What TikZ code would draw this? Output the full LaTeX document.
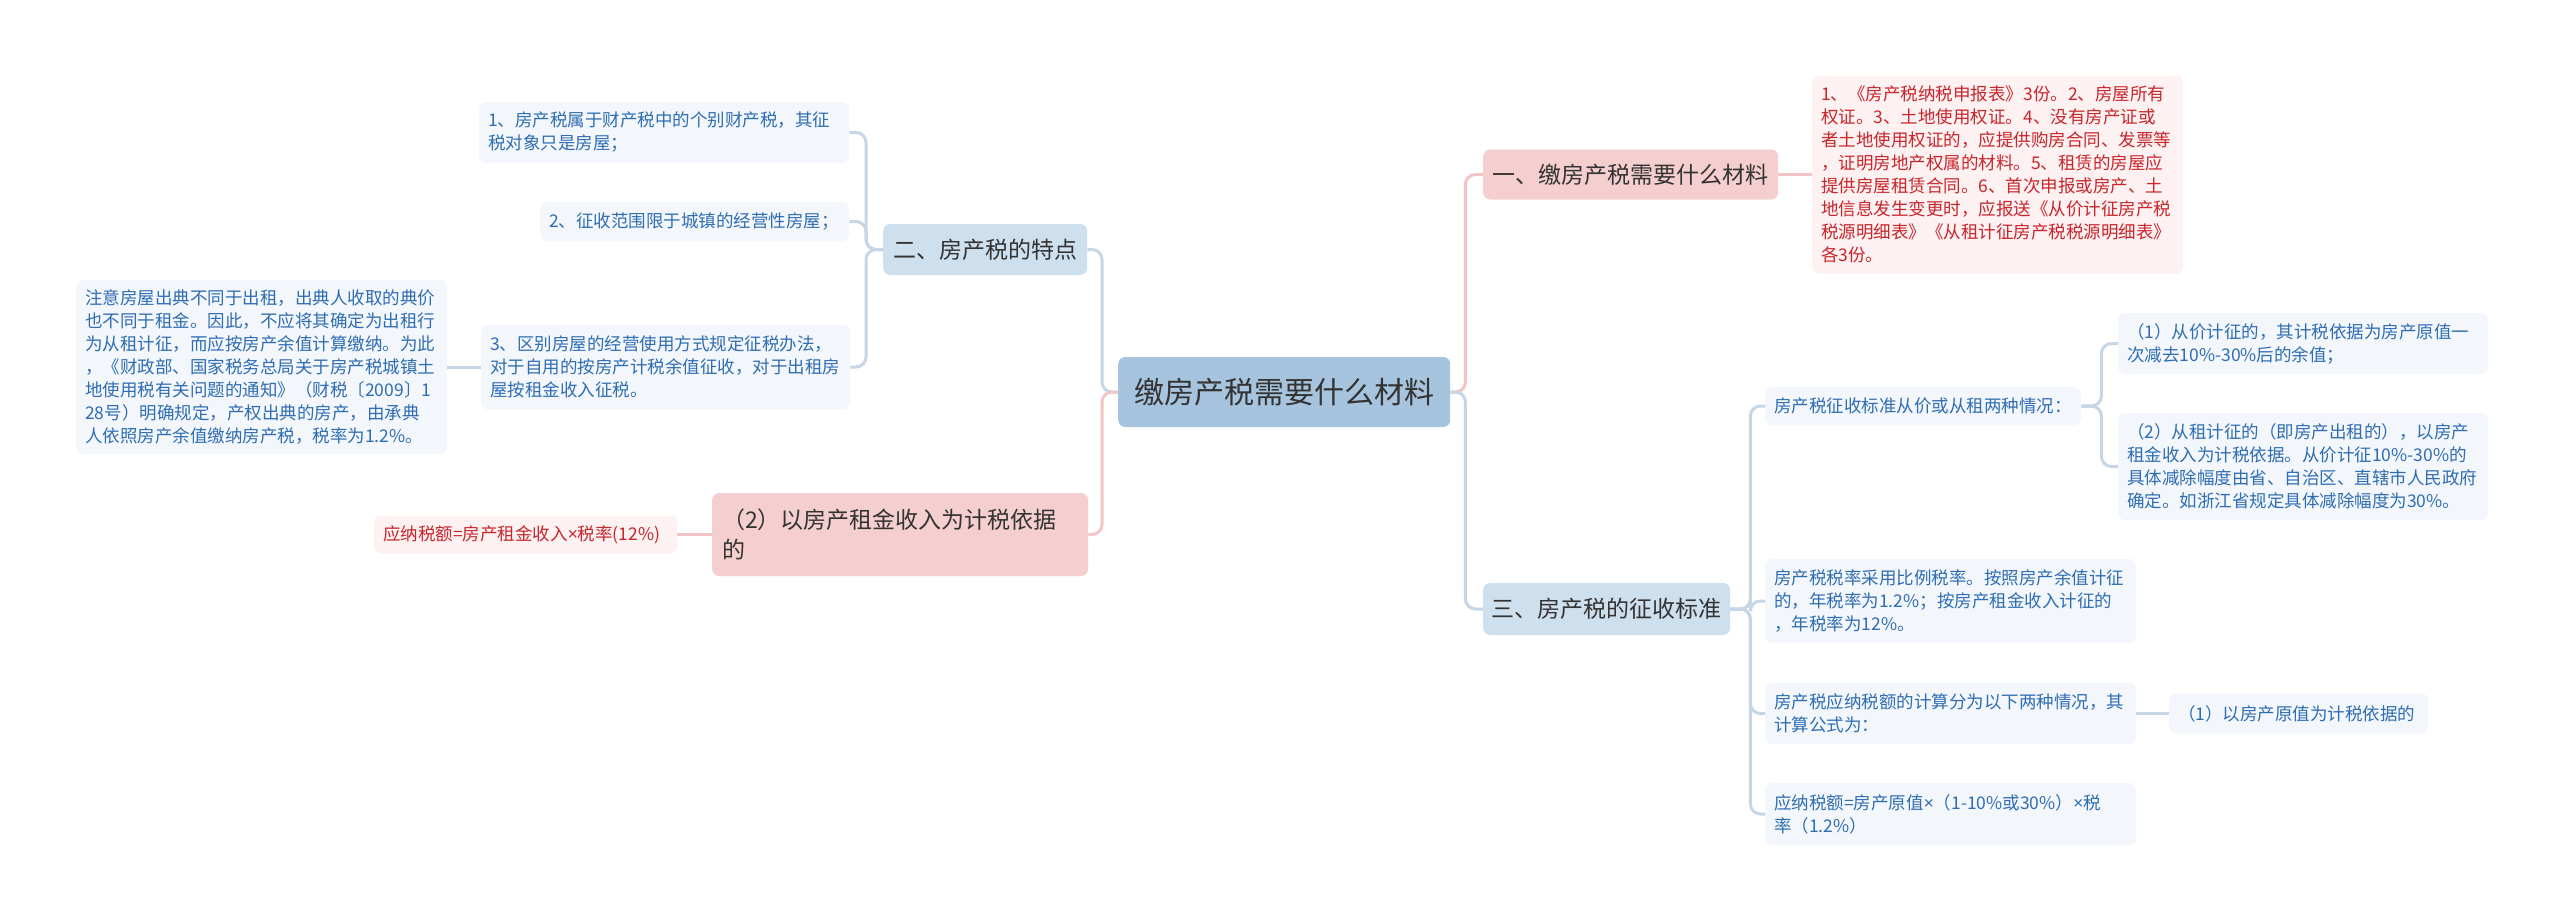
\documentclass[tikz,border=0pt]{standalone}
\usepackage{fontspec}
\setmainfont{Noto Sans CJK SC}
\newfontfamily\latinfont{Noto Sans}
\newcommand{\mytimes}{{\latinfont ×}}
\definecolor{rootfill}{RGB}{167,196,222}
\definecolor{bluefill}{RGB}{206,223,238}
\definecolor{pinkfill}{RGB}{245,206,207}
\definecolor{bleaf}{RGB}{243,247,252}
\definecolor{pleaf}{RGB}{253,241,241}
\definecolor{btext}{RGB}{47,109,178}
\definecolor{ptext}{RGB}{200,38,44}
\definecolor{dtext}{RGB}{51,51,51}
\definecolor{bline}{RGB}{198,214,230}
\definecolor{pline}{RGB}{242,196,197}
\begin{document}
\begin{tikzpicture}[x=1pt,y=-1pt,
 base/.style={rounded corners=7pt, inner ysep=0pt, anchor=west},
 rootbox/.style={base, fill=rootfill, text=dtext, font=\fontsize{30}{36}\selectfont, minimum width=332pt, minimum height=70pt, inner xsep=0pt},
 lvb/.style={base, fill=bluefill, text=dtext, font=\fontsize{23}{30}\selectfont, inner xsep=0pt},
 lvp/.style={base, fill=pinkfill, text=dtext, font=\fontsize{23}{30}\selectfont, inner xsep=0pt},
 leafb/.style={base, fill=bleaf, text=btext, font=\fontsize{17.5}{23}\selectfont, align=left, inner xsep=9pt},
 leafp/.style={base, fill=pleaf, text=ptext, font=\fontsize{17.5}{23}\selectfont, align=left, inner xsep=9pt},
 conb/.style={draw=bline, line width=3pt, rounded corners=10pt},
 conp/.style={draw=pline, line width=3pt, rounded corners=10pt},
]
\useasboundingbox[fill=white] (0,0) rectangle (2560,921);

% root
\node[rootbox] (root) at (1118,392) {缴房产税需要什么材料};

% left side
\node[lvb, minimum width=204pt, minimum height=51pt] (er) at (883,249.5) {二、房产税的特点};
\node[lvp, text width=356pt, align=left, inner xsep=10pt, minimum height=83pt] (p2) at (712,534.5) {（2）以房产租金收入为计税依据\\的};
\node[leafp, text width=285pt, minimum height=38pt] (red) at (374,534.5) {应纳税额=房产租金收入\mytimes 税率(12\%)};

\node[leafb, text width=352pt, minimum height=61pt] (a1) at (479,132.5) {1、房产税属于财产税中的个别财产税，其征\\税对象只是房屋；};
\node[leafb, text width=291pt, minimum height=39pt] (a2) at (540,221.5) {2、征收范围限于城镇的经营性房屋；};
\node[leafb, text width=351pt, minimum height=85pt] (a3) at (481,367) {3、区别房屋的经营使用方式规定征税办法，\\对于自用的按房产计税余值征收，对于出租房\\屋按租金收入征税。};
\node[leafb, text width=353pt, minimum height=174pt] (note) at (76,367) {注意房屋出典不同于出租，出典人收取的典价\\也不同于租金。因此，不应将其确定为出租行\\为从租计征，而应按房产余值计算缴纳。为此\\，《财政部、国家税务总局关于房产税城镇土\\地使用税有关问题的通知》（财税〔2009〕1\\28号）明确规定，产权出典的房产，由承典\\人依照房产余值缴纳房产税，税率为1.2\%。};

% right side
\node[lvp, minimum width=295pt, minimum height=50pt] (y1) at (1483,174.5) {一、缴房产税需要什么材料};
\node[leafp, text width=353pt, minimum height=198pt] (y1c) at (1812,174.5) {1、《房产税纳税申报表》3份。2、房屋所有\\权证。3、土地使用权证。4、没有房产证或\\者土地使用权证的，应提供购房合同、发票等\\，证明房地产权属的材料。5、租赁的房屋应\\提供房屋租赁合同。6、首次申报或房产、土\\地信息发生变更时，应报送《从价计征房产税\\税源明细表》《从租计征房产税税源明细表》\\各3份。};

\node[lvb, minimum width=247pt, minimum height=52pt] (s3) at (1483,609) {三、房产税的征收标准};
\node[leafb, text width=298pt, minimum height=38pt] (b1) at (1765,406) {房产税征收标准从价或从租两种情况：};
\node[leafb, text width=352pt, minimum height=61pt] (b1a) at (2118,343.5) {（1）从价计征的，其计税依据为房产原值一\\次减去10\%-30\%后的余值；};
\node[leafb, text width=352pt, minimum height=107pt] (b1b) at (2118,466.5) {（2）从租计征的（即房产出租的），以房产\\租金收入为计税依据。从价计征10\%-30\%的\\具体减除幅度由省、自治区、直辖市人民政府\\确定。如浙江省规定具体减除幅度为30\%。};
\node[leafb, text width=353pt, minimum height=84pt] (b2) at (1765,601) {房产税税率采用比例税率。按照房产余值计征\\的，年税率为1.2\%；按房产租金收入计征的\\，年税率为12\%。};
\node[leafb, text width=353pt, minimum height=61pt] (b3) at (1765,713.5) {房产税应纳税额的计算分为以下两种情况，其\\计算公式为：};
\node[leafb, text width=241pt, minimum height=40pt] (b3a) at (2169,713.5) {（1）以房产原值为计税依据的};
\node[leafb, text width=353pt, minimum height=62pt] (b4) at (1765,814) {应纳税额=房产原值\mytimes（1-10\%或30\%）\mytimes 税\\率（1.2\%）};

% connectors
\draw[conb] (root.west) -- ++(-16,0) |- (er.east);
\draw[conp] (root.west) -- ++(-16,0) |- (p2.east);
\draw[conp] (root.east) -- ++(15,0) |- (y1.west);
\draw[conb] (root.east) -- ++(15,0) |- (s3.west);

\draw[conb] (er.west) -- ++(-17,0) |- (a1.east);
\draw[conb] (er.west) -- ++(-17,0) |- (a2.east);
\draw[conb] (er.west) -- ++(-17,0) |- (a3.east);
\draw[conb] (a3.west) -- (note.east);
\draw[conp] (p2.west) -- (red.east);

\draw[conp] (y1.east) -- (y1c.west);
\draw[conb] (s3.east) -- ++(20,0) |- (b1.west);
\draw[conb] (s3.east) -- ++(20,0) |- (b2.west);
\draw[conb] (s3.east) -- ++(20,0) |- (b3.west);
\draw[conb] (s3.east) -- ++(20,0) |- (b4.west);
\draw[conb] (b1.east) -- ++(20,0) |- (b1a.west);
\draw[conb] (b1.east) -- ++(20,0) |- (b1b.west);
\draw[conb] (b3.east) -- (b3a.west);
\end{tikzpicture}
\end{document}
